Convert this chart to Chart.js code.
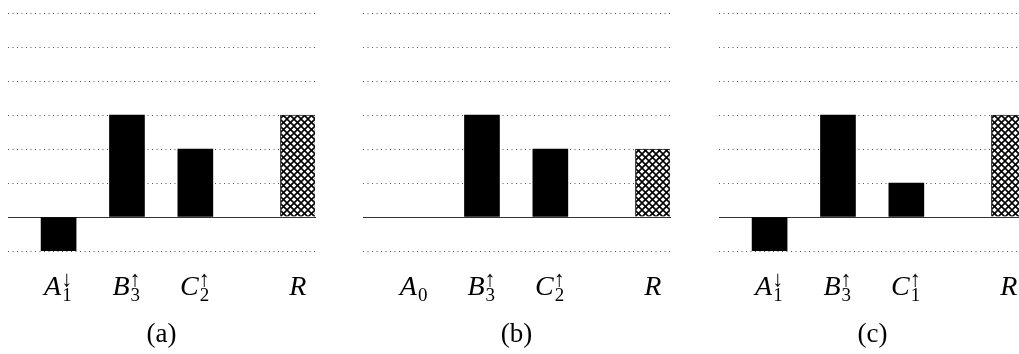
<!DOCTYPE html>
<html>
<head>
<meta charset="utf-8">
<script src="https://cdn.jsdelivr.net/npm/chart.js@4/dist/chart.umd.min.js"></script>
<style>
  html, body { margin: 0; padding: 0; background: #fff; overflow: hidden; }
  body { width: 1019px; height: 354px; position: relative; }
  .panel { position: absolute; top: 0; width: 356px; height: 354px; }
</style>
</head>
<body>
<div class="panel" style="left:0px"><canvas id="pa" width="356" height="354"></canvas></div>
<div class="panel" style="left:355px"><canvas id="pb" width="356" height="354"></canvas></div>
<div class="panel" style="left:711px"><canvas id="pc" width="356" height="354"></canvas></div>
<script>
// Bar positions along the horizontal axis (R sits a bit further out)
const positions = [0, 1, 2, 3.5];
const letters = ['A', 'B', 'C', 'R'];

// Panel (a)
const valuesA = [-1, 3, 2, 3];
const subsA = ['1', '3', '2', ''];
const arrowsA = ['\u2193', '\u2191', '\u2191', ''];

// Panel (b)
const valuesB = [0, 3, 2, 2];
const subsB = ['0', '3', '2', ''];
const arrowsB = ['', '\u2191', '\u2191', ''];

// Panel (c)
const valuesC = [-1, 3, 1, 3];
const subsC = ['1', '3', '1', ''];
const arrowsC = ['\u2193', '\u2191', '\u2191', ''];

const captions = ['(a)', '(b)', '(c)'];
const yMin = -1, yMax = 6;

// Cross-hatch fill for the result bar
function makeHatch() {
  const s = 7;
  const c = document.createElement('canvas');
  c.width = s; c.height = s;
  const g = c.getContext('2d');
  g.fillStyle = '#fff';
  g.fillRect(0, 0, s, s);
  g.strokeStyle = '#000';
  g.lineWidth = 1.6;
  for (const k of [-s, 0, s]) {
    g.beginPath(); g.moveTo(k, 0); g.lineTo(k + s, s); g.stroke();
    g.beginPath(); g.moveTo(k, s); g.lineTo(k + s, 0); g.stroke();
  }
  return g.createPattern(c, 'repeat');
}

const SERIF = '"Liberation Serif", "DejaVu Serif", serif';
const ARROW_FONT = '22px "Liberation Serif", "DejaVu Serif", serif';

// Draws the math-style category labels and the panel caption
const labelPlugin = {
  id: 'mathLabels',
  afterDraw(chart, args, opts) {
    const ctx = chart.ctx;
    const xs = chart.scales.x;
    ctx.save();
    ctx.fillStyle = '#000';
    ctx.textBaseline = 'alphabetic';
    ctx.textAlign = 'left';
    xs.ticks.forEach((t, i) => {
      const x = xs.getPixelForValue(t.value);
      const base = 295;
      ctx.font = 'italic 28px ' + SERIF;
      const wL = ctx.measureText(opts.letters[i]).width;
      ctx.font = '19px ' + SERIF;
      const wSub = opts.subs[i] ? ctx.measureText(opts.subs[i]).width : 0;
      ctx.font = ARROW_FONT;
      const wSup = opts.arrows[i] ? ctx.measureText(opts.arrows[i]).width : 0;
      const wS = Math.max(wSub, wSup);
      const total = wL + (wS ? 1 + wS : 0);
      const x0 = x - total / 2;
      ctx.font = 'italic 28px ' + SERIF;
      ctx.fillText(opts.letters[i], x0, base);
      if (opts.subs[i]) {
        ctx.font = '19px ' + SERIF;
        ctx.fillText(opts.subs[i], x0 + wL + 1, base + 6);
      }
      if (opts.arrows[i]) {
        ctx.font = ARROW_FONT;
        ctx.fillText(opts.arrows[i], x0 + wL, base - 9);
      }
    });
    const area = chart.chartArea;
    ctx.font = '27px ' + SERIF;
    ctx.textAlign = 'center';
    ctx.fillText(opts.caption, (area.left + area.right) / 2, 342);
    ctx.restore();
  }
};

const hatch = makeHatch();

function buildPanel(id, values, subs, arrows, caption) {
  const lastIndex = positions.length - 1;
  new Chart(document.getElementById(id), {
    type: 'bar',
    data: {
      datasets: [{
        data: positions.map((p, i) => ({ x: p, y: values[i] })),
        backgroundColor: c => c.dataIndex === lastIndex ? hatch
          : (c.raw && c.raw.y === 0 ? 'rgba(0,0,0,0)' : '#000'),
        borderColor: '#222',
        borderWidth: c => c.dataIndex === lastIndex ? 1 : 0,
        borderSkipped: 'start',
        barThickness: 35
      }]
    },
    options: {
      responsive: false,
      animation: false,
      devicePixelRatio: 1,
      layout: { padding: { left: 8, right: 41, top: 13, bottom: 103 } },
      plugins: {
        legend: { display: false },
        tooltip: { enabled: false },
        mathLabels: { letters, subs, arrows, caption }
      },
      scales: {
        x: {
          type: 'linear',
          position: { y: 0 },
          offset: false,
          min: -0.74,
          max: 3.75,
          afterBuildTicks: s => { s.ticks = positions.map(v => ({ value: v })); },
          ticks: { display: false },
          grid: { display: false, drawTicks: false },
          border: { display: true, color: '#333', width: 1 }
        },
        y: {
          min: yMin,
          max: yMax,
          ticks: { display: false, stepSize: 1 },
          grid: {
            color: c => c.tick && c.tick.value === 0 ? 'rgba(0,0,0,0)' : '#555',
            lineWidth: 1,
            drawTicks: false,
            tickLength: 0
          },
          border: { display: false, dash: [1, 3.5] }
        }
      }
    },
    plugins: [labelPlugin]
  });
}

buildPanel('pa', valuesA, subsA, arrowsA, captions[0]);
buildPanel('pb', valuesB, subsB, arrowsB, captions[1]);
buildPanel('pc', valuesC, subsC, arrowsC, captions[2]);
</script>
</body>
</html>
